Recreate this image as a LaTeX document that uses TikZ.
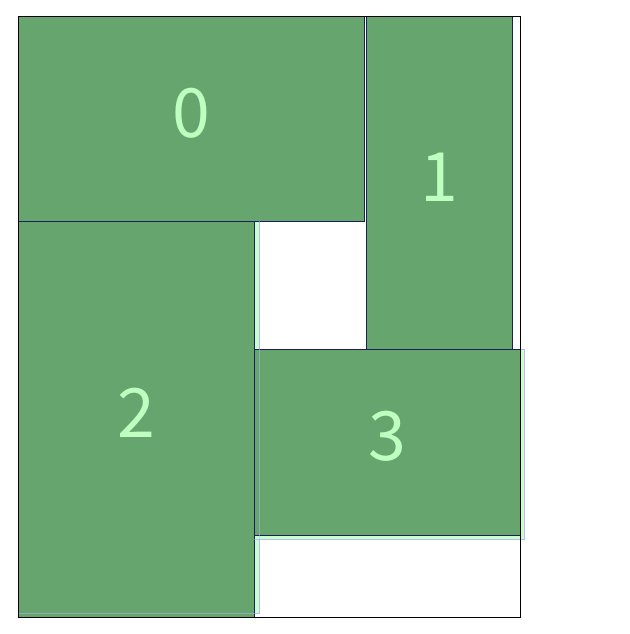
\documentclass[tikz,border=0pt]{standalone}
\usepackage{fontspec}
\newfontfamily\labfont{Noto Sans CJK JP}
\definecolor{boxgreen}{RGB}{102,166,110}
\definecolor{labgreen}{RGB}{192,255,192}
\definecolor{edgenavy}{RGB}{30,30,90}
\definecolor{ghostfill}{RGB}{200,255,200}
\definecolor{ghostedge}{RGB}{185,185,255}
\tikzset{
  box/.style={draw=edgenavy, fill=boxgreen, line width=1pt, inner sep=0pt, outer sep=0pt,
    text=labgreen, text depth=12pt, font=\labfont\fontsize{68}{68}\selectfont},
  ghost/.style={fill=ghostfill, draw=ghostedge, line width=1pt}
}
\begin{document}
\begin{tikzpicture}[x=1pt, y=-1pt]
  \useasboundingbox (0,0) rectangle (629,634);
  % offset copies
  \draw[ghost] (18,221) rectangle (259,613);
  \draw[ghost] (254,349) rectangle (524,539);
  % packed pieces
  \node[box, minimum width=346pt, minimum height=204pt] (0) at (191,119) {0};
  \node[box, minimum width=146pt, minimum height=332pt] (1) at (439,183) {1};
  \node[box, minimum width=236pt, minimum height=396pt] (2) at (136,419) {2};
  \node[box, minimum width=266pt, minimum height=186pt] (3) at (387,442) {3};
  \begin{scope}[draw opacity=0.5]
    \draw[draw=ghostedge] (18,613) -- (259,613) -- (259,221);
    \draw[draw=ghostedge] (254,539) -- (524,539) -- (524,349);
  \end{scope}
  % bin
  \draw[black, line width=1pt] (18,17) rectangle (520,617);
\end{tikzpicture}
\end{document}
